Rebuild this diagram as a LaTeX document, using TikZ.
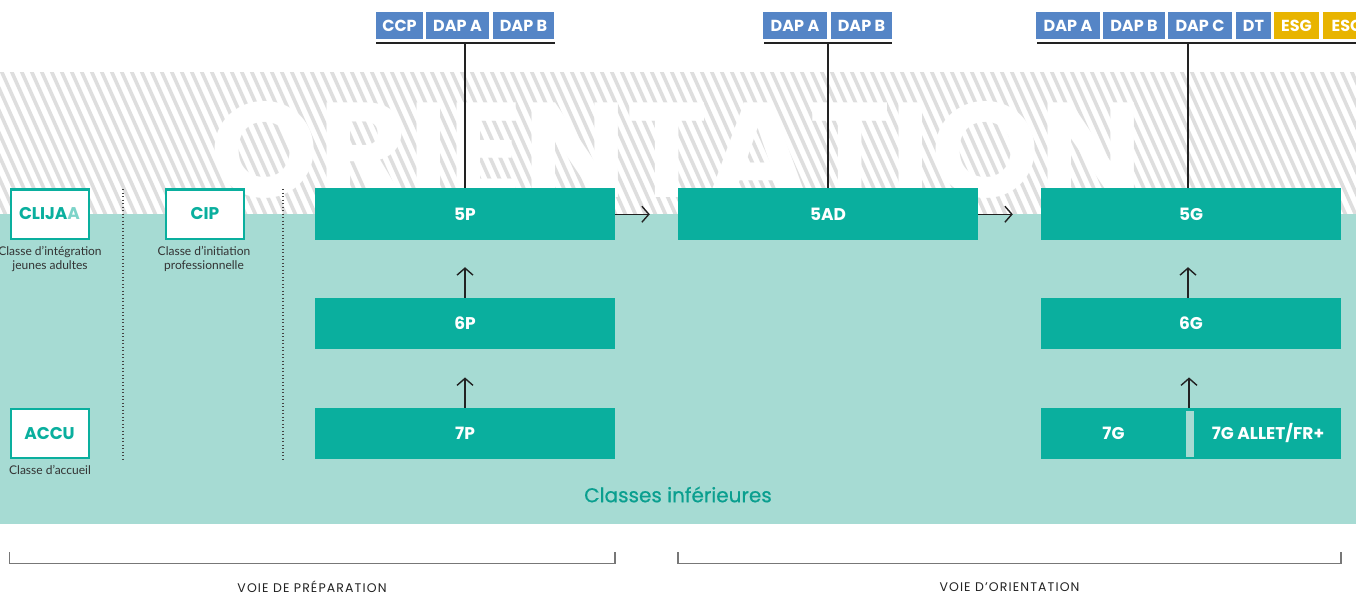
\documentclass[tikz,border=0pt]{standalone}
\usepackage{fontspec}
\setmainfont{Poppins}
\newfontfamily\captfont{Lato}
\usetikzlibrary{arrows.meta}
\definecolor{teal1}{HTML}{0AAF9E}
\definecolor{teal2}{HTML}{0A9F8F}
\definecolor{lteal}{HTML}{A6DBD3}
\definecolor{tagblue}{HTML}{5585C6}
\definecolor{tagyel}{HTML}{E8B400}
\definecolor{hatchgray}{HTML}{DEDEDE}
\definecolor{ink}{HTML}{222222}
\definecolor{aacol}{HTML}{7DD4C9}
\definecolor{captcol}{HTML}{333333}
\definecolor{brkcol}{HTML}{777777}
\begin{document}
\begin{tikzpicture}[x=1pt,y=-1pt,
 tbox/.style={fill=teal1, draw=none, minimum width=300, minimum height=51.5, inner sep=0, text=white, font=\bfseries\fontsize{17}{17}\selectfont},
 tlabel/.style={inner sep=0, text=white, font=\bfseries\fontsize{17}{17}\selectfont},
 wbox/.style={fill=white, draw=teal1, line width=2, minimum width=78, minimum height=49, inner sep=0, text=teal1, font=\bfseries\fontsize{17}{17}\selectfont},
 tag/.style={fill=tagblue, minimum height=27.5, inner sep=0, text=white, font=\bfseries\fontsize{16}{16}\selectfont},
 ytag/.style={tag, fill=tagyel},
 capt/.style={font=\captfont\fontsize{12}{14.5}\selectfont, text=captcol, align=center, inner sep=0},
 conn/.style={draw=ink, line width=1.4},
 arr/.style={conn, -{Straight Barb[length=7, width=16, line width=1.4]}},
 tagbar/.style={draw=ink, line width=2},
 dots/.style={draw=ink!85, line width=1.3, dash pattern=on 1.2 off 2.3},
 brk/.style={draw=brkcol, line width=1.2},
 voie/.style={inner sep=0, text=ink, font=\addfontfeatures{LetterSpace=9}\fontsize{12.5}{12.5}\selectfont}
]
\useasboundingbox (0,0) rectangle (1356,596);
\fill[white] (0,0) rectangle (1356,596);
% hatched band
\begin{scope}
 \clip (0,73) rectangle (1356,214);
 \foreach \i in {-12,...,140} \draw[hatchgray, line width=3.6] (10*\i,68) -- (10*\i+68,220);
\end{scope}
\fill[lteal] (0,214) rectangle (1356,524);
% big word
\node[anchor=base west, inner sep=0, text=white] (orient) at (210,197) {\resizebox{932pt}{96pt}{\bfseries ORIENTATION}};

% main boxes
\node[tbox] (p5) at (465,214.25) {5P};
\node[tbox] (p6) at (465,323.5) {6P};
\node[tbox] (p7) at (465,433.5) {7P};
\node[tbox] (ad5) at (828,214.25) {5AD};
\node[tbox] (g5) at (1191,214.25) {5G};
\node[tbox] (g6) at (1191,323.5) {6G};
\node[tbox] (g7) at (1191,433.5) {};
\fill[lteal] (1186,411) rectangle (1194,457);
\node[tlabel] (g7a) at (1113.5,433.5) {7G};
\node[tlabel] (g7b) at (1268,433.5) {7G ALLET/FR+};

% arrows
\draw[arr, shorten >=28] (p7.north) -- (p6.south);
\draw[arr, shorten >=27] (p6.north) -- (p5.south);
\draw[arr, shorten >=28] (p5.east) -- (ad5.west);
\draw[arr, shorten >=28] (ad5.east) -- (g5.west);
\draw[arr, shorten >=28] ([xshift=-2]g7.north) -- ([xshift=-2]g6.south);
\draw[arr, shorten >=27] ([xshift=-3]g6.north) -- ([xshift=-3]g5.south);

% tags group 1
\node[tag, minimum width=47] (t1a) at (399.5,25.75) {CCP};
\node[tag, minimum width=63] (t1b) at (457.5,25.75) {DAP A};
\node[tag, minimum width=61] (t1c) at (523.5,25.75) {DAP B};
\coordinate (b1l) at (376,43.5);
\coordinate (b1r) at (555,43.5);
\draw[tagbar] (b1l) -- (b1r);
\draw[conn] (b1l -| p5.north) -- (p5.north);

% tags group 2
\node[tag, minimum width=64] (t2a) at (795,25.75) {DAP A};
\node[tag, minimum width=61] (t2b) at (861.5,25.75) {DAP B};
\coordinate (b2l) at (764,43.5);
\coordinate (b2r) at (892,43.5);
\draw[tagbar] (b2l) -- (b2r);
\draw[conn] (b2l -| ad5.north) -- (ad5.north);

% tags group 3
\node[tag, minimum width=64] (t3a) at (1068,25.75) {DAP A};
\node[tag, minimum width=62] (t3b) at (1134,25.75) {DAP B};
\node[tag, minimum width=64] (t3c) at (1200,25.75) {DAP C};
\node[tag, minimum width=35] (t3d) at (1253.5,25.75) {DT};
\node[ytag, minimum width=45] (t3e) at (1296.5,25.75) {ESG};
\node[ytag, minimum width=48] (t3f) at (1347,25.75) {ESC};
\coordinate (b3l) at (1037,43.5);
\coordinate (b3r) at (1356,43.5);
\coordinate (b3m) at (1188,43.5);
\draw[tagbar] (b3l) -- (b3r);
\draw[conn] (b3m) -- (b3m |- g5.north);

% left column
\node[wbox] (clij) at (49.5,214) {CLIJA\textcolor{aacol}{A}};
\node[wbox] (cip) at (205,214) {CIP};
\node[wbox] (accu) at (49.5,433.5) {ACCU};
\node[capt, anchor=north] (c1) at (50,246) {Classe d’intégration\\jeunes adultes};
\node[capt, anchor=north] (c2) at (204,246) {Classe d’initiation\\professionnelle};
\node[capt, anchor=north] (c3) at (50,465.5) {Classe d’accueil};

% dotted separators
\coordinate (d1t) at (123,189);
\coordinate (d1b) at (123,459);
\coordinate (d2t) at (283,189);
\coordinate (d2b) at (283,459);
\draw[dots] (d1t) -- (d1b);
\draw[dots] (d2t) -- (d2b);

\node[inner sep=0, text=teal2, font=\addfontfeatures{FakeBold=0.6}\fontsize{20}{20}\selectfont] (inf) at (678,494.5) {Classes inférieures};

% bottom brackets
\draw[brk] (9.5,552) -- (9.5,563.5) -- (615,563.5) -- (615,552);
\draw[brk] (678,552) -- (678,563.5) -- (1341,563.5) -- (1341,552);
\node[voie] (v1) at (312,587) {VOIE DE PRÉPARATION};
\node[voie] (v2) at (1009.5,587) {VOIE D’ORIENTATION};
\end{tikzpicture}
\end{document}
